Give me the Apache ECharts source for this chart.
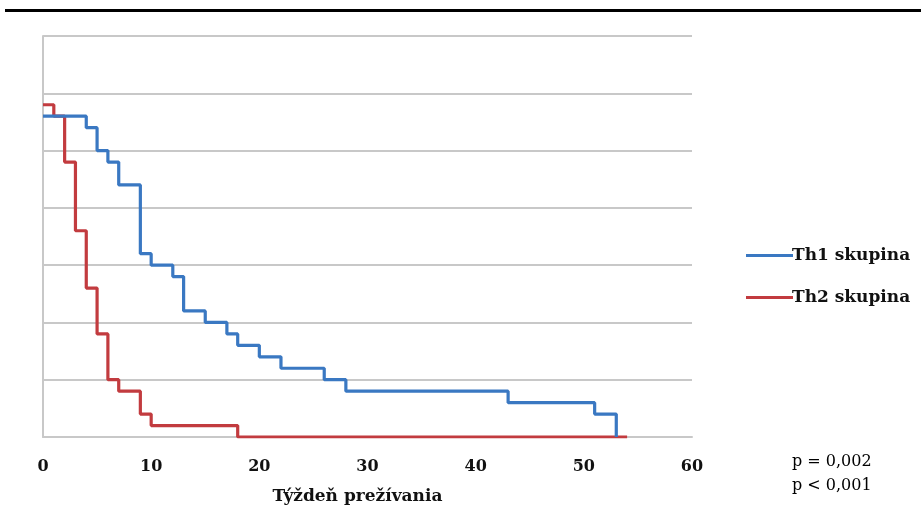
<!DOCTYPE html>
<html>
<head>
<meta charset="utf-8">
<script src="https://cdn.jsdelivr.net/npm/echarts@6/dist/echarts.min.js"></script>
<style>
html,body{margin:0;padding:0;background:#fff;}
#chart{width:921px;height:523px;}
</style>
</head>
<body>
<div id="chart"></div>
<script>
// Week of survival (x) and number surviving (y), step-function Kaplan-Meier style
const th1Weeks  = [0, 4, 5, 6, 7, 9, 10, 12, 13, 15, 17, 18, 20, 22, 26, 28, 43, 51, 53];
const th1Values = [28, 27, 25, 24, 22, 16, 15, 14, 11, 10, 9, 8, 7, 6, 5, 4, 3, 2, 0];
const th2Weeks  = [0, 1, 2, 3, 4, 5, 6, 7, 9, 10, 18, 54];
const th2Values = [29, 28, 24, 18, 13, 9, 5, 4, 2, 1, 0, 0];
const seriesNames = ['Th1 skupina', 'Th2 skupina'];
const xTicks = [0, 10, 20, 30, 40, 50, 60];
const xAxisTitle = 'Týždeň prežívania';
const pValues = ['p = 0,002', 'p < 0,001'];

const toPairs = (xs, ys) => xs.map((x, i) => [x, ys[i]]);
const serif = '"DejaVu Serif", "Liberation Serif", serif';

const chart = echarts.init(document.getElementById('chart'), null, {renderer: 'canvas'});
chart.setOption({
  animation: false,
  backgroundColor: '#ffffff',
  grid: {left: 43, right: 229, top: 36, bottom: 86, containLabel: false},
  xAxis: {
    type: 'value',
    min: xTicks[0], max: xTicks[xTicks.length - 1], interval: 10,
    name: xAxisTitle,
    nameLocation: 'middle',
    nameGap: 51,
    nameTextStyle: {fontFamily: serif, fontWeight: 'bold', fontSize: 17, color: '#111', padding: [0, 20, 0, 0]},
    axisLine: {show: true, lineStyle: {color: '#c8c8c8', width: 2}},
    axisTick: {show: false},
    splitLine: {show: false},
    axisLabel: {margin: 22, fontFamily: serif, fontWeight: 'bold', fontSize: 16, color: '#111'}
  },
  yAxis: {
    type: 'value',
    min: 0, max: 35, interval: 5,
    axisLine: {show: true, lineStyle: {color: '#c8c8c8', width: 2}},
    axisTick: {show: false},
    axisLabel: {show: false},
    splitLine: {show: true, lineStyle: {color: '#c8c8c8', width: 2}}
  },
  legend: {
    orient: 'vertical',
    left: 741,
    top: 242,
    itemGap: 25,
    itemWidth: 47,
    itemHeight: 3,
    icon: 'rect',
    textStyle: {fontFamily: serif, fontWeight: 'bold', fontSize: 17, color: '#111', padding: [0, 0, 0, -6]},
    data: seriesNames
  },
  series: [
    {
      name: seriesNames[0], type: 'line', step: 'end', showSymbol: false, symbol: 'none',
      data: toPairs(th1Weeks, th1Values),
      lineStyle: {color: '#3a78c2', width: 3.2}, itemStyle: {color: '#3a78c2'}, z: 3
    },
    {
      name: seriesNames[1], type: 'line', step: 'end', showSymbol: false, symbol: 'none',
      data: toPairs(th2Weeks, th2Values),
      lineStyle: {color: '#c23b3f', width: 3.2}, itemStyle: {color: '#c23b3f'}, z: 2
    }
  ],
  graphic: [
    {type: 'rect', left: 5, top: 9, shape: {width: 916, height: 3}, style: {fill: '#000'}},
    {type: 'text', left: 792, top: 450, style: {text: pValues.join('\n'), font: '16px ' + serif, fill: '#000', lineHeight: 24}}
  ]
});
</script>
</body>
</html>
